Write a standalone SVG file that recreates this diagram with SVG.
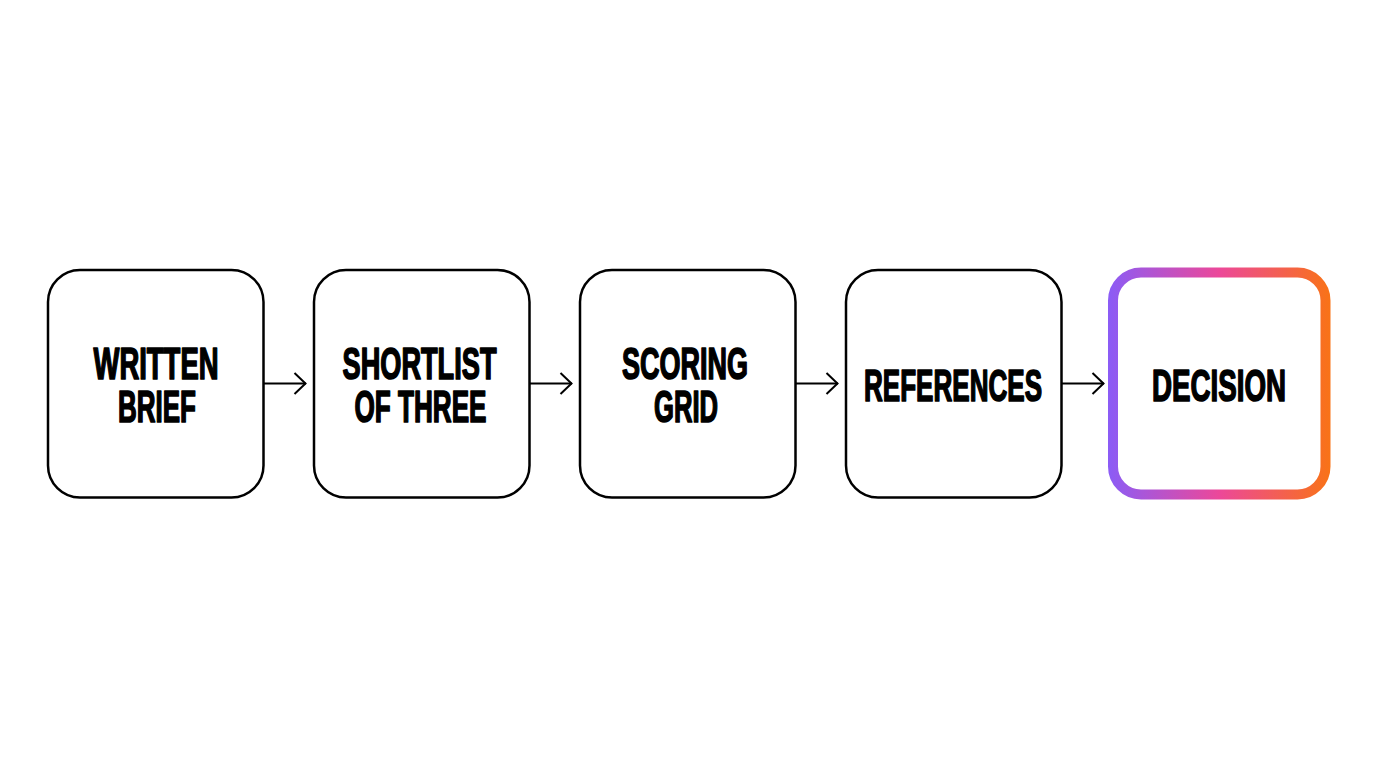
<svg xmlns="http://www.w3.org/2000/svg" width="1376" height="768" viewBox="0 0 1376 768">
  <defs>
    <linearGradient id="grad" gradientUnits="userSpaceOnUse" x1="1108" y1="0" x2="1331" y2="0">
      <stop offset="0" stop-color="#8B5CF6"/>
      <stop offset="0.5" stop-color="#EC4899"/>
      <stop offset="1" stop-color="#F97316"/>
    </linearGradient>
    <marker id="chev" viewBox="0 0 14 24" refX="13" refY="12" markerWidth="14" markerHeight="24" markerUnits="userSpaceOnUse" orient="auto">
      <path d="M1.5,1.5 L12.5,12 L1.5,22.5" fill="none" stroke="#000" stroke-width="2"/>
    </marker>
  </defs>
  <style>
    .box { fill: #fff; stroke: #000; stroke-width: 2.5; }
    .hl { fill: #fff; stroke: url(#grad); stroke-width: 10; }
    .lbl { font-family: "Liberation Sans", Arial, sans-serif; font-weight: 700; font-size: 44px; fill: #000; stroke: #000; stroke-width: 1.7; stroke-linejoin: round; text-anchor: middle; }
    .conn { stroke: #000; stroke-width: 2; fill: none; }
  </style>
  <rect width="1376" height="768" fill="#fff"/>

  <g id="connectors">
    <line class="conn" x1="264" y1="383.5" x2="306" y2="383.5" marker-end="url(#chev)"/>
    <line class="conn" x1="530" y1="383.5" x2="572" y2="383.5" marker-end="url(#chev)"/>
    <line class="conn" x1="796" y1="383.5" x2="838" y2="383.5" marker-end="url(#chev)"/>
    <line class="conn" x1="1062" y1="383.5" x2="1104" y2="383.5" marker-end="url(#chev)"/>
  </g>

  <g id="node-written-brief">
    <rect class="box" x="48" y="270" width="215.5" height="227.5" rx="32"/>
    <text class="lbl" x="156" y="379" textLength="125" lengthAdjust="spacingAndGlyphs">WRITTEN</text>
    <text class="lbl" x="157" y="422" textLength="78" lengthAdjust="spacingAndGlyphs">BRIEF</text>
  </g>

  <g id="node-shortlist">
    <rect class="box" x="314" y="270" width="215.5" height="227.5" rx="32"/>
    <text class="lbl" x="419.5" y="379" textLength="154" lengthAdjust="spacingAndGlyphs">SHORTLIST</text>
    <text class="lbl" x="420.5" y="422" textLength="132" lengthAdjust="spacingAndGlyphs">OF THREE</text>
  </g>

  <g id="node-scoring-grid">
    <rect class="box" x="580" y="270" width="215.5" height="227.5" rx="32"/>
    <text class="lbl" x="685" y="379" textLength="126" lengthAdjust="spacingAndGlyphs">SCORING</text>
    <text class="lbl" x="686" y="422" textLength="64" lengthAdjust="spacingAndGlyphs">GRID</text>
  </g>

  <g id="node-references">
    <rect class="box" x="846" y="270" width="215.5" height="227.5" rx="32"/>
    <text class="lbl" x="953" y="400.5" textLength="178" lengthAdjust="spacingAndGlyphs">REFERENCES</text>
  </g>

  <g id="node-decision">
    <rect class="hl" x="1113" y="272.5" width="212.5" height="222" rx="28"/>
    <text class="lbl" x="1219" y="400.5" textLength="134" lengthAdjust="spacingAndGlyphs">DECISION</text>
  </g>
</svg>
